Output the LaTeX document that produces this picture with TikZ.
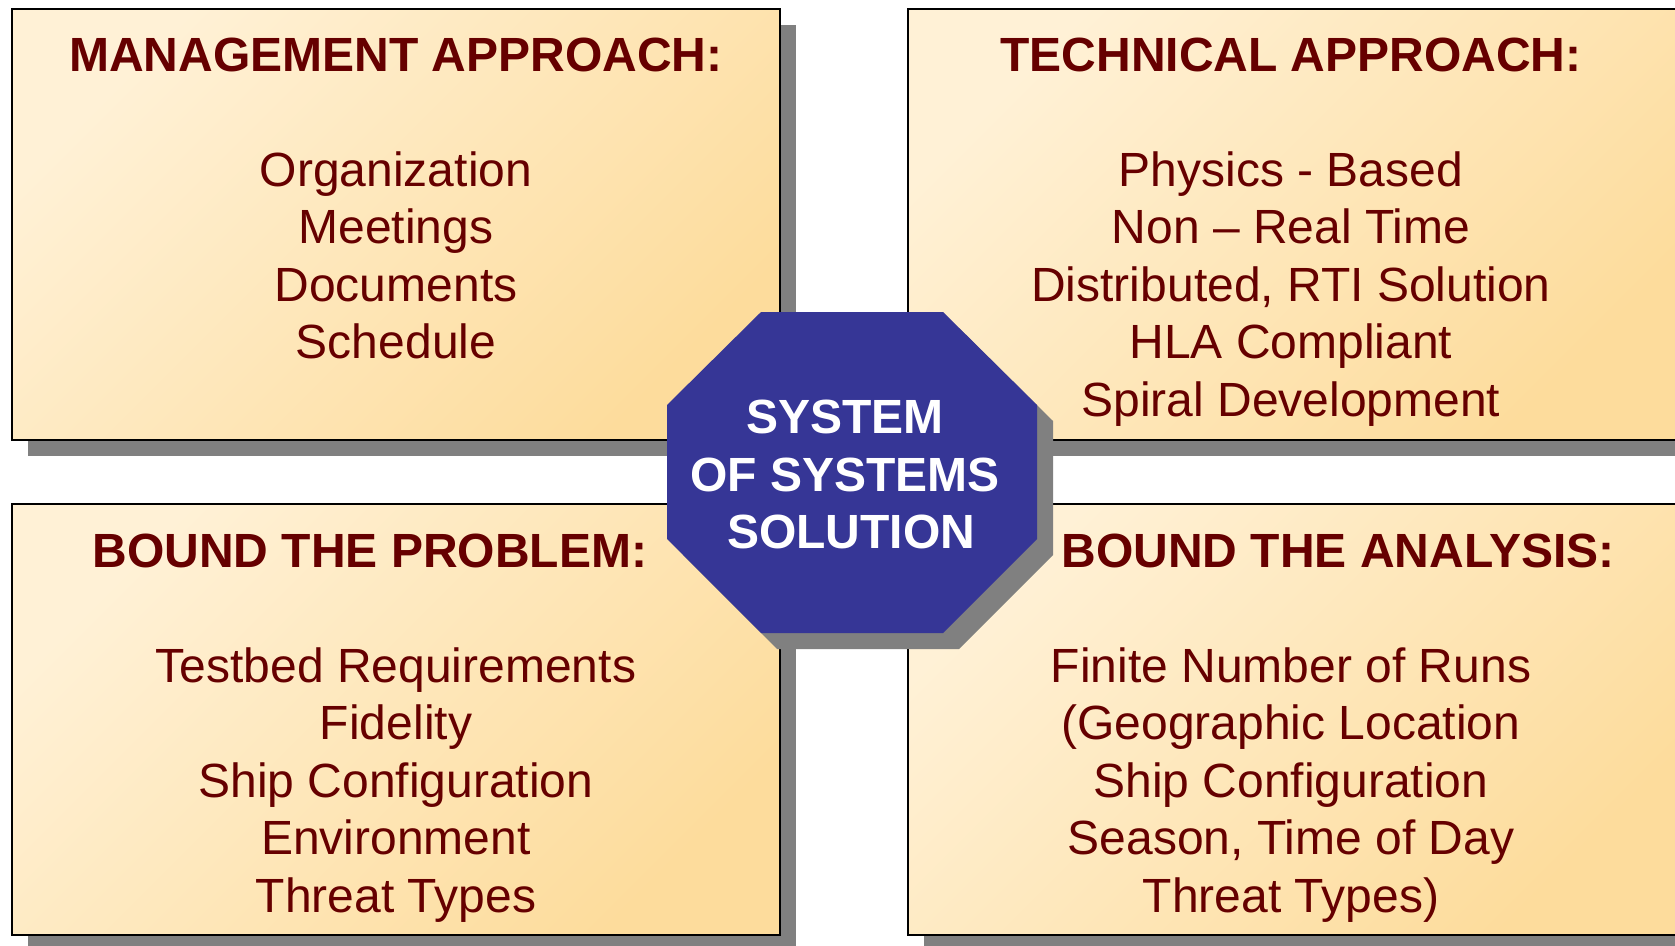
\documentclass[tikz,border=0pt]{standalone}
\usepackage{fontspec}
\setmainfont{Liberation Sans}
\definecolor{txt}{HTML}{660000}
\definecolor{hubfill}{HTML}{363696}
\definecolor{shadowgray}{HTML}{808080}
\definecolor{boxlight}{HTML}{FFF1D6}
\definecolor{boxdark}{HTML}{FDDC9C}
\begin{document}
\begin{tikzpicture}[x=1pt,y=-1pt,
  panel/.style={draw=black, line width=2.5pt, top color=boxlight, bottom color=boxdark, shading angle=45,
    minimum width=768pt, minimum height=431pt, anchor=north west, inner sep=0pt, outer sep=0pt},
  shadowbox/.style={fill=shadowgray, draw=none, minimum width=768pt, minimum height=431pt,
    anchor=north west, inner sep=0pt, outer sep=0pt},
  title/.style={font=\fontsize{48}{57.5}\bfseries\selectfont, text=txt, anchor=base, inner sep=0pt},
  body/.style={font=\fontsize{48}{57.5}\selectfont, text=txt, anchor=base, inner sep=0pt},
  hubtext/.style={font=\fontsize{48}{57.5}\bfseries\selectfont, text=white, anchor=base, inner sep=0pt}]
\useasboundingbox (0,0) rectangle (1675,945);
\fill[white] (0,0) rectangle (1675,945);

% shadows
\node[shadowbox] (s1) at (28,25) {};
\node[shadowbox] (s2) at (924,25) {};
\node[shadowbox] (s3) at (28,520) {};
\node[shadowbox] (s4) at (924,520) {};

% panels
\node[panel] (mgmt) at (12,9) {};
\node[panel] (tech) at (908,9) {};
\node[panel] (prob) at (12,504) {};
\node[panel] (anal) at (908,504) {};

% octagon
\fill[shadowgray, shift={(16,16)}] (761,312) -- (943,312) -- (1037,405) -- (1037,539) -- (943,633) -- (761,633) -- (667,539) -- (667,405) -- cycle;
\fill[hubfill] (761,312) -- (943,312) -- (1037,405) -- (1037,539) -- (943,633) -- (761,633) -- (667,539) -- (667,405) -- cycle;

% titles
\node[title] (t1) at (396,71) {MANAGEMENT APPROACH:};
\node[title] (t2) at (1291,71) {TECHNICAL APPROACH:};
\node[title] (t3) at (370,567) {BOUND THE PROBLEM:};
\node[title] (t4) at (1338,567) {BOUND THE ANALYSIS:};

% bodies
\foreach \t [count=\i] in {{Organization}, {Meetings}, {Documents}, {Schedule}}
  \node[body] (ma\i) at (396,{186+57.5*(\i-1)}) {\t};
\foreach \t [count=\i] in {{Physics - Based}, {Non – Real Time}, {Distributed, RTI Solution}, {HLA Compliant}, {Spiral Development}}
  \node[body] (ta\i) at (1291,{186+57.5*(\i-1)}) {\t};
\foreach \t [count=\i] in {{Testbed Requirements}, {Fidelity}, {Ship Configuration}, {Environment}, {Threat Types}}
  \node[body] (bp\i) at (396,{682+57.5*(\i-1)}) {\t};
\foreach \t [count=\i] in {{Finite Number of Runs}, {\relax(Geographic Location}, {Ship Configuration}, {Season, Time of Day}, {Threat Types)}}
  \node[body] (ba\i) at (1291,{682+57.5*(\i-1)}) {\t};

% hub text
\node[hubtext] (h1) at (845,433) {SYSTEM};
\node[hubtext] (h2) at (845,491) {OF SYSTEMS};
\node[hubtext] (h3) at (851,548) {SOLUTION};
\end{tikzpicture}
\end{document}
